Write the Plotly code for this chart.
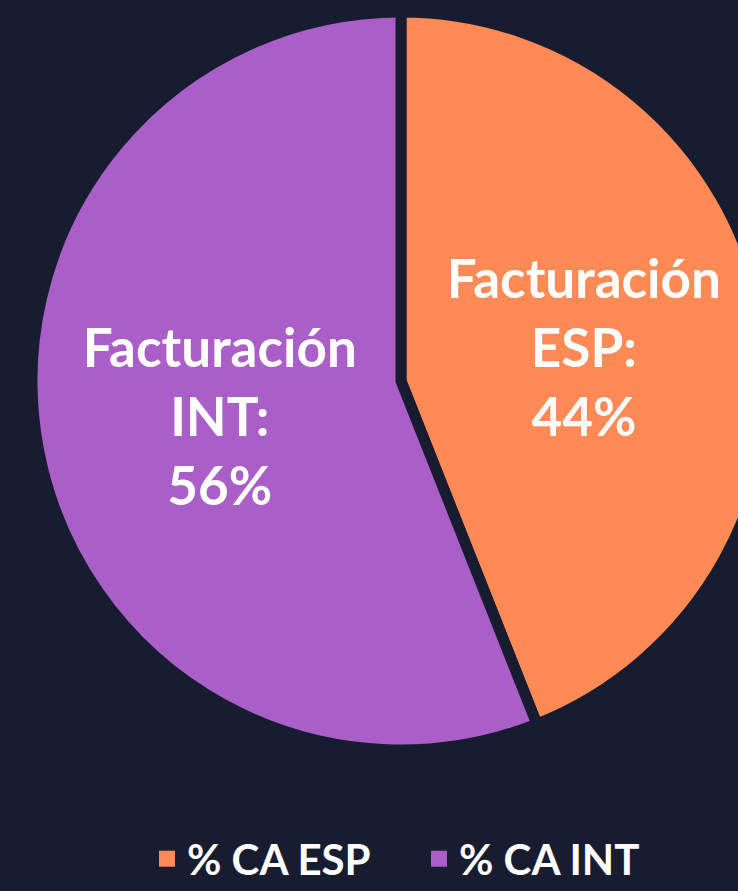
import plotly.graph_objects as go

labels = ["% CA ESP", "% CA INT"]
slice_names = ["Facturación<br>ESP:", "Facturación<br>INT:"]
values = [44, 56]
colors = ["#ff8a55", "#aa5ec8"]

BG = "#181c30"
W, H = 775, 891

fig = go.Figure()
fig.add_trace(go.Pie(
    labels=labels,
    values=values,
    customdata=slice_names,
    sort=False,
    direction="clockwise",
    rotation=0,
    marker=dict(colors=colors, line=dict(color=BG, width=11)),
    texttemplate="%{customdata}<br>%{value}%",
    textposition="inside",
    insidetextorientation="horizontal",
    textfont=dict(family="Lato", size=53, color="white", weight="bold"),
    hoverinfo="label+percent",
    showlegend=False,
    domain=dict(x=[32 / W, 770 / W], y=[(H - 750) / H, (H - 12) / H]),
))

# legend entries with larger square swatches
for lab, col in zip(labels, colors):
    fig.add_trace(go.Scatter(
        x=[None], y=[None], mode="markers", name=lab,
        marker=dict(symbol="square", size=16, color=col),
        showlegend=True, hoverinfo="skip",
    ))

fig.update_layout(
    width=W, height=H, autosize=False,
    paper_bgcolor=BG, plot_bgcolor=BG,
    margin=dict(l=0, r=0, t=0, b=0, autoexpand=False),
    xaxis=dict(visible=False), yaxis=dict(visible=False),
    showlegend=True,
    legend=dict(
        orientation="h", x=419 / W, xanchor="center", y=0.036, yanchor="middle",
        font=dict(family="Lato", size=42, color="white", weight="bold"),
        itemsizing="trace",
        entrywidth=227, entrywidthmode="pixels",
    ),
)

fig.write_html(
    "out.html",
    config={"displayModeBar": False},
    post_script="document.body.style.margin='0';document.body.style.overflow='hidden';",
)
